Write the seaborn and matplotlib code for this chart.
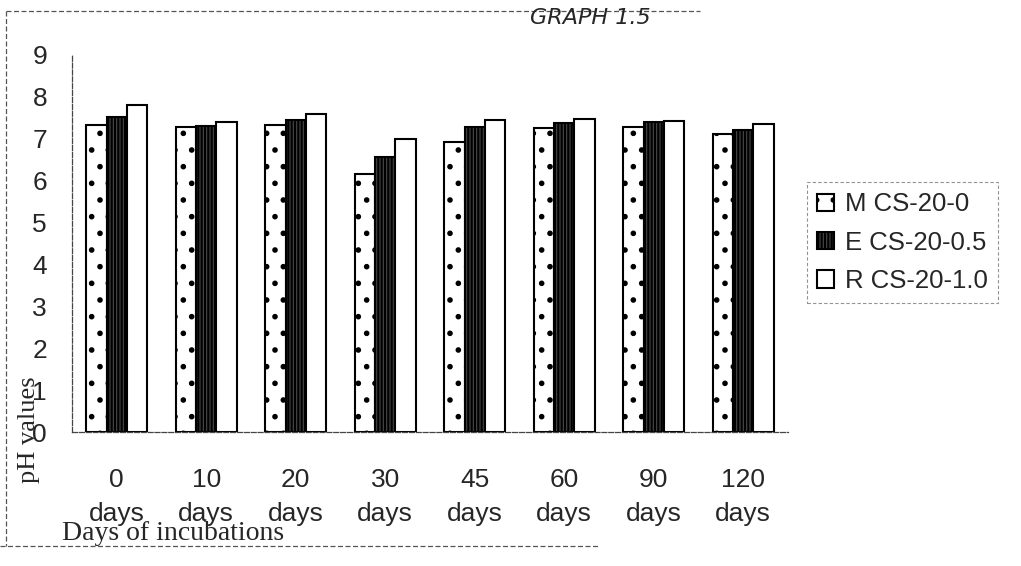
import matplotlib
matplotlib.use("Agg")
import matplotlib.pyplot as plt
import seaborn as sns
import pandas as pd
import numpy as np
from matplotlib.lines import Line2D

categories = ["0\ndays", "10\ndays", "20\ndays", "30\ndays", "45\ndays", "60\ndays", "90\ndays", "120\ndays"]
series_names = ["M CS-20-0", "E CS-20-0.5", "R CS-20-1.0"]
m_values = [7.33, 7.27, 7.33, 6.16, 6.93, 7.25, 7.27, 7.11]
e_values = [7.52, 7.30, 7.45, 6.57, 7.28, 7.37, 7.40, 7.21]
r_values = [7.81, 7.40, 7.59, 7.00, 7.45, 7.47, 7.43, 7.35]
y_ticks = [0, 1, 2, 3, 4, 5, 6, 7, 8, 9]

df = pd.DataFrame({
    "cat": categories * 3,
    "series": [series_names[0]] * 8 + [series_names[1]] * 8 + [series_names[2]] * 8,
    "val": m_values + e_values + r_values,
})

sns.set_theme(style="white")
plt.rcParams["font.family"] = ["Liberation Sans", "DejaVu Sans"]
plt.rcParams["hatch.linewidth"] = 1.6
plt.rcParams["hatch.color"] = "black"

W, H = 1021, 566
fig = plt.figure(figsize=(W / 100, H / 100), dpi=100)
ax = fig.add_axes([72 / W, 1 - 432 / H, 716 / W, (432 - 55) / H])

sns.barplot(data=df, x="cat", y="val", hue="series", order=categories,
            hue_order=series_names, width=0.68, ax=ax, saturation=1,
            palette=["white", "#4a4a4a", "white"], edgecolor="black",
            linewidth=1.5, legend=False)

hatches = {series_names[0]: ".", series_names[1]: "|||||", series_names[2]: ""}
for container, name in zip(ax.containers, series_names):
    for bar in container:
        bar.set_hatch(hatches[name])
        bar.set_edgecolor("black")

ax.set_xlim(-0.5, 7.5)
ax.set_ylim(0, 9)
ax.set_yticks(y_ticks)
ax.set_yticklabels([str(t) for t in y_ticks], fontsize=19)
ax.set_xticks(range(len(categories)))
ax.set_xticklabels(categories, fontsize=19, linespacing=1.5)
ax.set_xticks(np.arange(-0.5, 8.0, 1.0), minor=True)
ax.tick_params(axis="x", which="major", length=0, pad=26)
ax.tick_params(axis="x", which="minor", length=6, width=0.8, color="#555555", direction="out")
ax.tick_params(axis="y", length=6.5, width=0.8, color="#555555", direction="out", pad=11.5)
ax.set_xlabel("")
ax.set_ylabel("")
for s in ["top", "right"]:
    ax.spines[s].set_visible(False)
for s in ["left", "bottom"]:
    ax.spines[s].set_linewidth(0.9)
    ax.spines[s].set_color("#444444")
    ax.spines[s].set_linestyle((0, (4, 1.5)))

handles = [c.patches[0] for c in ax.containers]
leg = ax.legend(handles, series_names, loc="upper left",
                bbox_to_anchor=(807 / W, 1 - 182 / H), bbox_transform=fig.transFigure,
                fontsize=18.5, frameon=True, fancybox=False, edgecolor="#777777",
                handlelength=0.66, handleheight=0.66, handletextpad=0.43,
                labelspacing=0.56, borderpad=0.4, borderaxespad=0)
leg.get_frame().set_linestyle((0, (3, 2)))
leg.get_frame().set_linewidth(0.8)
leg.get_frame().set_boxstyle("square", pad=0)

fig.text(29 / W, 1 - 430 / H, "pH values", rotation=90, ha="center", va="center",
         fontsize=19, family=["Liberation Serif", "DejaVu Serif"])
fig.text(62 / W, 1 - 540 / H, "Days of incubations", ha="left", va="baseline",
         fontsize=20, family=["Liberation Serif", "DejaVu Serif"])
fig.text(590 / W, 1 - 18 / H, "GRAPH 1.5", ha="center", va="center",
         fontsize=16, style="italic", family=["DejaVu Sans"])

border_style = dict(color="#555555", linewidth=0.9, linestyle=(0, (4, 2)),
                    transform=fig.transFigure)
fig.lines.append(Line2D([6 / W, 700 / W], [1 - 11 / H, 1 - 11 / H], **border_style))
fig.lines.append(Line2D([6 / W, 6 / W], [1 - 11 / H, 1 - 546 / H], **border_style))
fig.lines.append(Line2D([0, 600 / W], [1 - 546 / H, 1 - 546 / H], **border_style))

fig.savefig("out.png", dpi=100)
